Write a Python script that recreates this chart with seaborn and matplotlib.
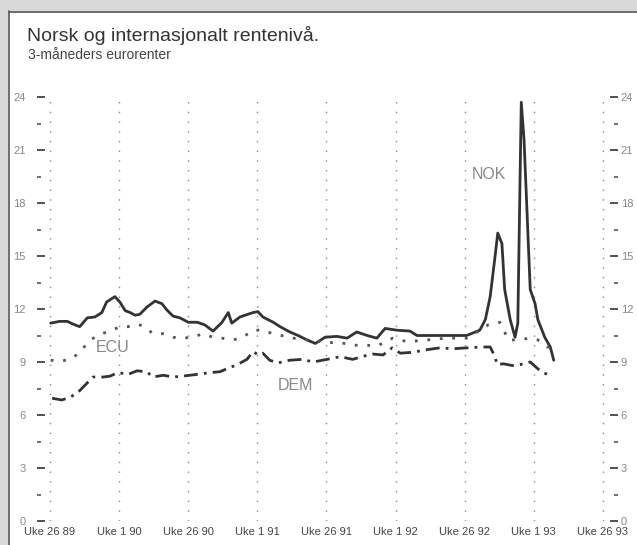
import numpy as np
import matplotlib
matplotlib.use('Agg')
import matplotlib.pyplot as plt
import matplotlib.patches as mpatches
from matplotlib.ticker import MultipleLocator
import pandas as pd
import seaborn as sns

# time axis: half-years since "Uke 26 89"
tick_labels = ['Uke 26 89', 'Uke 1 90', 'Uke 26 90', 'Uke 1 91', 'Uke 26 91',
               'Uke 1 92', 'Uke 26 92', 'Uke 1 93', 'Uke 26 93']

nok_t = [0.01, 0.14, 0.25, 0.33, 0.43, 0.54, 0.65, 0.75, 0.82, 0.94,
         1.01, 1.09, 1.16, 1.23, 1.30, 1.40, 1.52, 1.62, 1.69, 1.78,
         1.88, 2.00, 2.13, 2.24, 2.36, 2.49, 2.58, 2.63, 2.75, 2.94,
         3.01, 3.08, 3.23, 3.33, 3.47, 3.59, 3.72, 3.84, 3.98, 4.15,
         4.30, 4.44, 4.59, 4.73, 4.85, 5.02, 5.21, 5.31, 5.64, 6.03,
         6.22, 6.30, 6.37, 6.44, 6.48, 6.54, 6.58, 6.66, 6.73, 6.77,
         6.80, 6.82, 6.86, 6.92, 6.95, 7.02, 7.06, 7.16, 7.24, 7.29]
nok_v = [11.2, 11.3, 11.3, 11.15, 11.0, 11.5, 11.55, 11.8, 12.4, 12.7,
         12.4, 11.9, 11.8, 11.65, 11.7, 12.1, 12.45, 12.3, 11.95, 11.6,
         11.5, 11.25, 11.25, 11.1, 10.75, 11.25, 11.8, 11.2, 11.55, 11.8,
         11.85, 11.55, 11.25, 11.0, 10.7, 10.5, 10.25, 10.05, 10.4, 10.45,
         10.35, 10.7, 10.5, 10.35, 10.9, 10.8, 10.75, 10.5, 10.5, 10.5,
         10.8, 11.4, 12.7, 14.95, 16.3, 15.7, 13.1, 11.4, 10.4, 11.2,
         18.7, 23.7, 21.6, 15.9, 13.1, 12.3, 11.4, 10.4, 9.85, 9.1]

ecu_t = [0.01, 0.17, 0.32, 0.43, 0.58, 0.75, 0.90, 1.01, 1.13, 1.26,
         1.37, 1.49, 1.64, 1.78, 1.92, 2.07, 2.21, 2.36, 2.49, 2.65,
         2.79, 2.94, 3.07, 3.23, 3.52, 3.72, 4.01, 4.20, 4.38, 4.59,
         4.73, 4.96, 5.17, 5.46, 5.74, 6.03, 6.22, 6.34, 6.51, 6.58,
         6.63, 6.76, 6.95, 7.06, 7.19, 7.26]
ecu_v = [9.1, 9.05, 9.2, 9.55, 10.25, 10.6, 10.8, 11.0, 11.0, 11.15,
         11.0, 10.6, 10.6, 10.4, 10.35, 10.4, 10.6, 10.4, 10.35, 10.25,
         10.4, 10.8, 10.8, 10.6, 10.35, 10.25, 10.1, 10.1, 9.95, 9.95,
         9.9, 10.35, 10.15, 10.25, 10.35, 10.35, 10.8, 11.1, 11.25, 10.7,
         10.25, 10.25, 10.35, 10.25, 9.85, 9.85]

dem_t = [0.03, 0.17, 0.29, 0.41, 0.51, 0.62, 0.77, 0.87, 0.98, 1.13,
         1.26, 1.40, 1.49, 1.64, 1.78, 1.92, 2.13, 2.32, 2.46, 2.58,
         2.71, 2.85, 2.94, 3.01, 3.08, 3.18, 3.30, 3.47, 3.65, 3.81,
         4.01, 4.20, 4.38, 4.56, 4.67, 4.82, 4.95, 5.07, 5.25, 5.46,
         5.64, 5.83, 6.03, 6.27, 6.37, 6.44, 6.47, 6.56, 6.69, 6.80,
         6.95, 7.05, 7.13, 7.24]
dem_v = [6.95, 6.85, 7.0, 7.3, 7.7, 8.15, 8.15, 8.2, 8.4, 8.3,
         8.5, 8.45, 8.15, 8.25, 8.15, 8.2, 8.3, 8.4, 8.45, 8.65,
         8.85, 9.15, 9.6, 9.4, 9.5, 9.1, 8.95, 9.1, 9.15, 9.0,
         9.15, 9.3, 9.15, 9.35, 9.45, 9.4, 9.8, 9.5, 9.55, 9.7,
         9.8, 9.75, 9.8, 9.85, 9.85, 9.3, 8.85, 8.9, 8.8, 8.85,
         9.0, 8.65, 8.4, 8.25]

df = pd.concat([
    pd.DataFrame({'t': nok_t, 'rente': nok_v, 'serie': 'NOK'}),
    pd.DataFrame({'t': ecu_t, 'rente': ecu_v, 'serie': 'ECU'}),
    pd.DataFrame({'t': dem_t, 'rente': dem_v, 'serie': 'DEM'}),
], ignore_index=True)

sns.set_style('white')
plt.rcParams['font.family'] = ['Liberation Sans Narrow', 'Liberation Sans', 'DejaVu Sans']

fig = plt.figure(figsize=(6.37, 5.45), dpi=100)
W, H = 637, 545

# grey scanned border strips
fig.patches.append(mpatches.Rectangle((0, 1 - 11 / H), 1, 11 / H, transform=fig.transFigure,
                                      facecolor='#d9d9d9', edgecolor='none', zorder=0))
fig.patches.append(mpatches.Rectangle((0, 0), 8 / W, 1, transform=fig.transFigure,
                                      facecolor='#d9d9d9', edgecolor='none', zorder=0))
fig.lines.append(plt.Line2D([8.5 / W, 8.5 / W], [0, 1 - 11 / H], transform=fig.transFigure,
                            color='#555555', lw=1.2))
fig.lines.append(plt.Line2D([8.5 / W, 1], [1 - 11.5 / H, 1 - 11.5 / H], transform=fig.transFigure,
                            color='#555555', lw=1.2))

ax = fig.add_axes([37 / W, 24 / H, 581 / W, 424 / H])
ax.set_facecolor('none')

sns.lineplot(data=df, x='t', y='rente', hue='serie', style='serie', sort=False,
             palette={'NOK': '#333333', 'ECU': '#555555', 'DEM': '#333333'},
             dashes={'NOK': '', 'ECU': (1, 3.5), 'DEM': (5, 2.2, 1, 2.2)},
             linewidth=2, legend=False, ax=ax)

ax.set_xlim(-13 / 69.1, 568 / 69.1)
ax.set_ylim(0, 24)
ax.set_xticks(range(len(tick_labels)))
ax.set_xticklabels(tick_labels)
ax.set_yticks(range(0, 25, 3))
ax.yaxis.set_minor_locator(MultipleLocator(1.5))
for s in ax.spines.values():
    s.set_visible(False)
ax.grid(axis='x', linestyle=(0, (1, 6)), color='#888888', lw=1)
ax.grid(axis='y', visible=False)
ax.tick_params(axis='x', length=0, pad=4, labelsize=8, labelcolor='#444444')
ax.tick_params(axis='y', which='major', direction='in', length=6, width=1.3, color='#444444',
               left=True, right=False, labelleft=True, labelright=False,
               labelsize=8, labelcolor='#888888', pad=8)
ax.tick_params(axis='y', which='minor', direction='in', length=3, width=1.2, color='#555555',
               left=True, right=False)
ax.set_xlabel('')
ax.set_ylabel('')

# right-hand scale mirrors the left one
ax2 = ax.twinx()
ax2.set_ylim(0, 24)
ax2.set_yticks(range(0, 25, 3))
ax2.yaxis.set_minor_locator(MultipleLocator(1.5))
for s in ax2.spines.values():
    s.set_visible(False)
ax2.grid(False)
ax2.tick_params(axis='y', which='major', direction='in', length=6, width=1.3, color='#444444',
                labelsize=8, labelcolor='#888888', pad=2)
ax2.tick_params(axis='y', which='minor', direction='in', length=3, width=1.2, color='#555555')

ax.text(0.9, 9.8, 'ECU', color='#888888', fontsize=11.5, ha='center', va='center')
ax.text(3.56, 7.65, 'DEM', color='#888888', fontsize=11.5, ha='center', va='center')
ax.text(6.35, 19.6, 'NOK', color='#888888', fontsize=11.5, ha='center', va='center')

fig.text(27 / W, 1 - 35 / H, 'Norsk og internasjonalt rentenivå.', fontsize=14,
         color='#333333', va='center', ha='left')
fig.text(28 / W, 1 - 55 / H, '3-måneders eurorenter', fontsize=10,
         color='#444444', va='center', ha='left')

fig.savefig('out.png', dpi=100)
